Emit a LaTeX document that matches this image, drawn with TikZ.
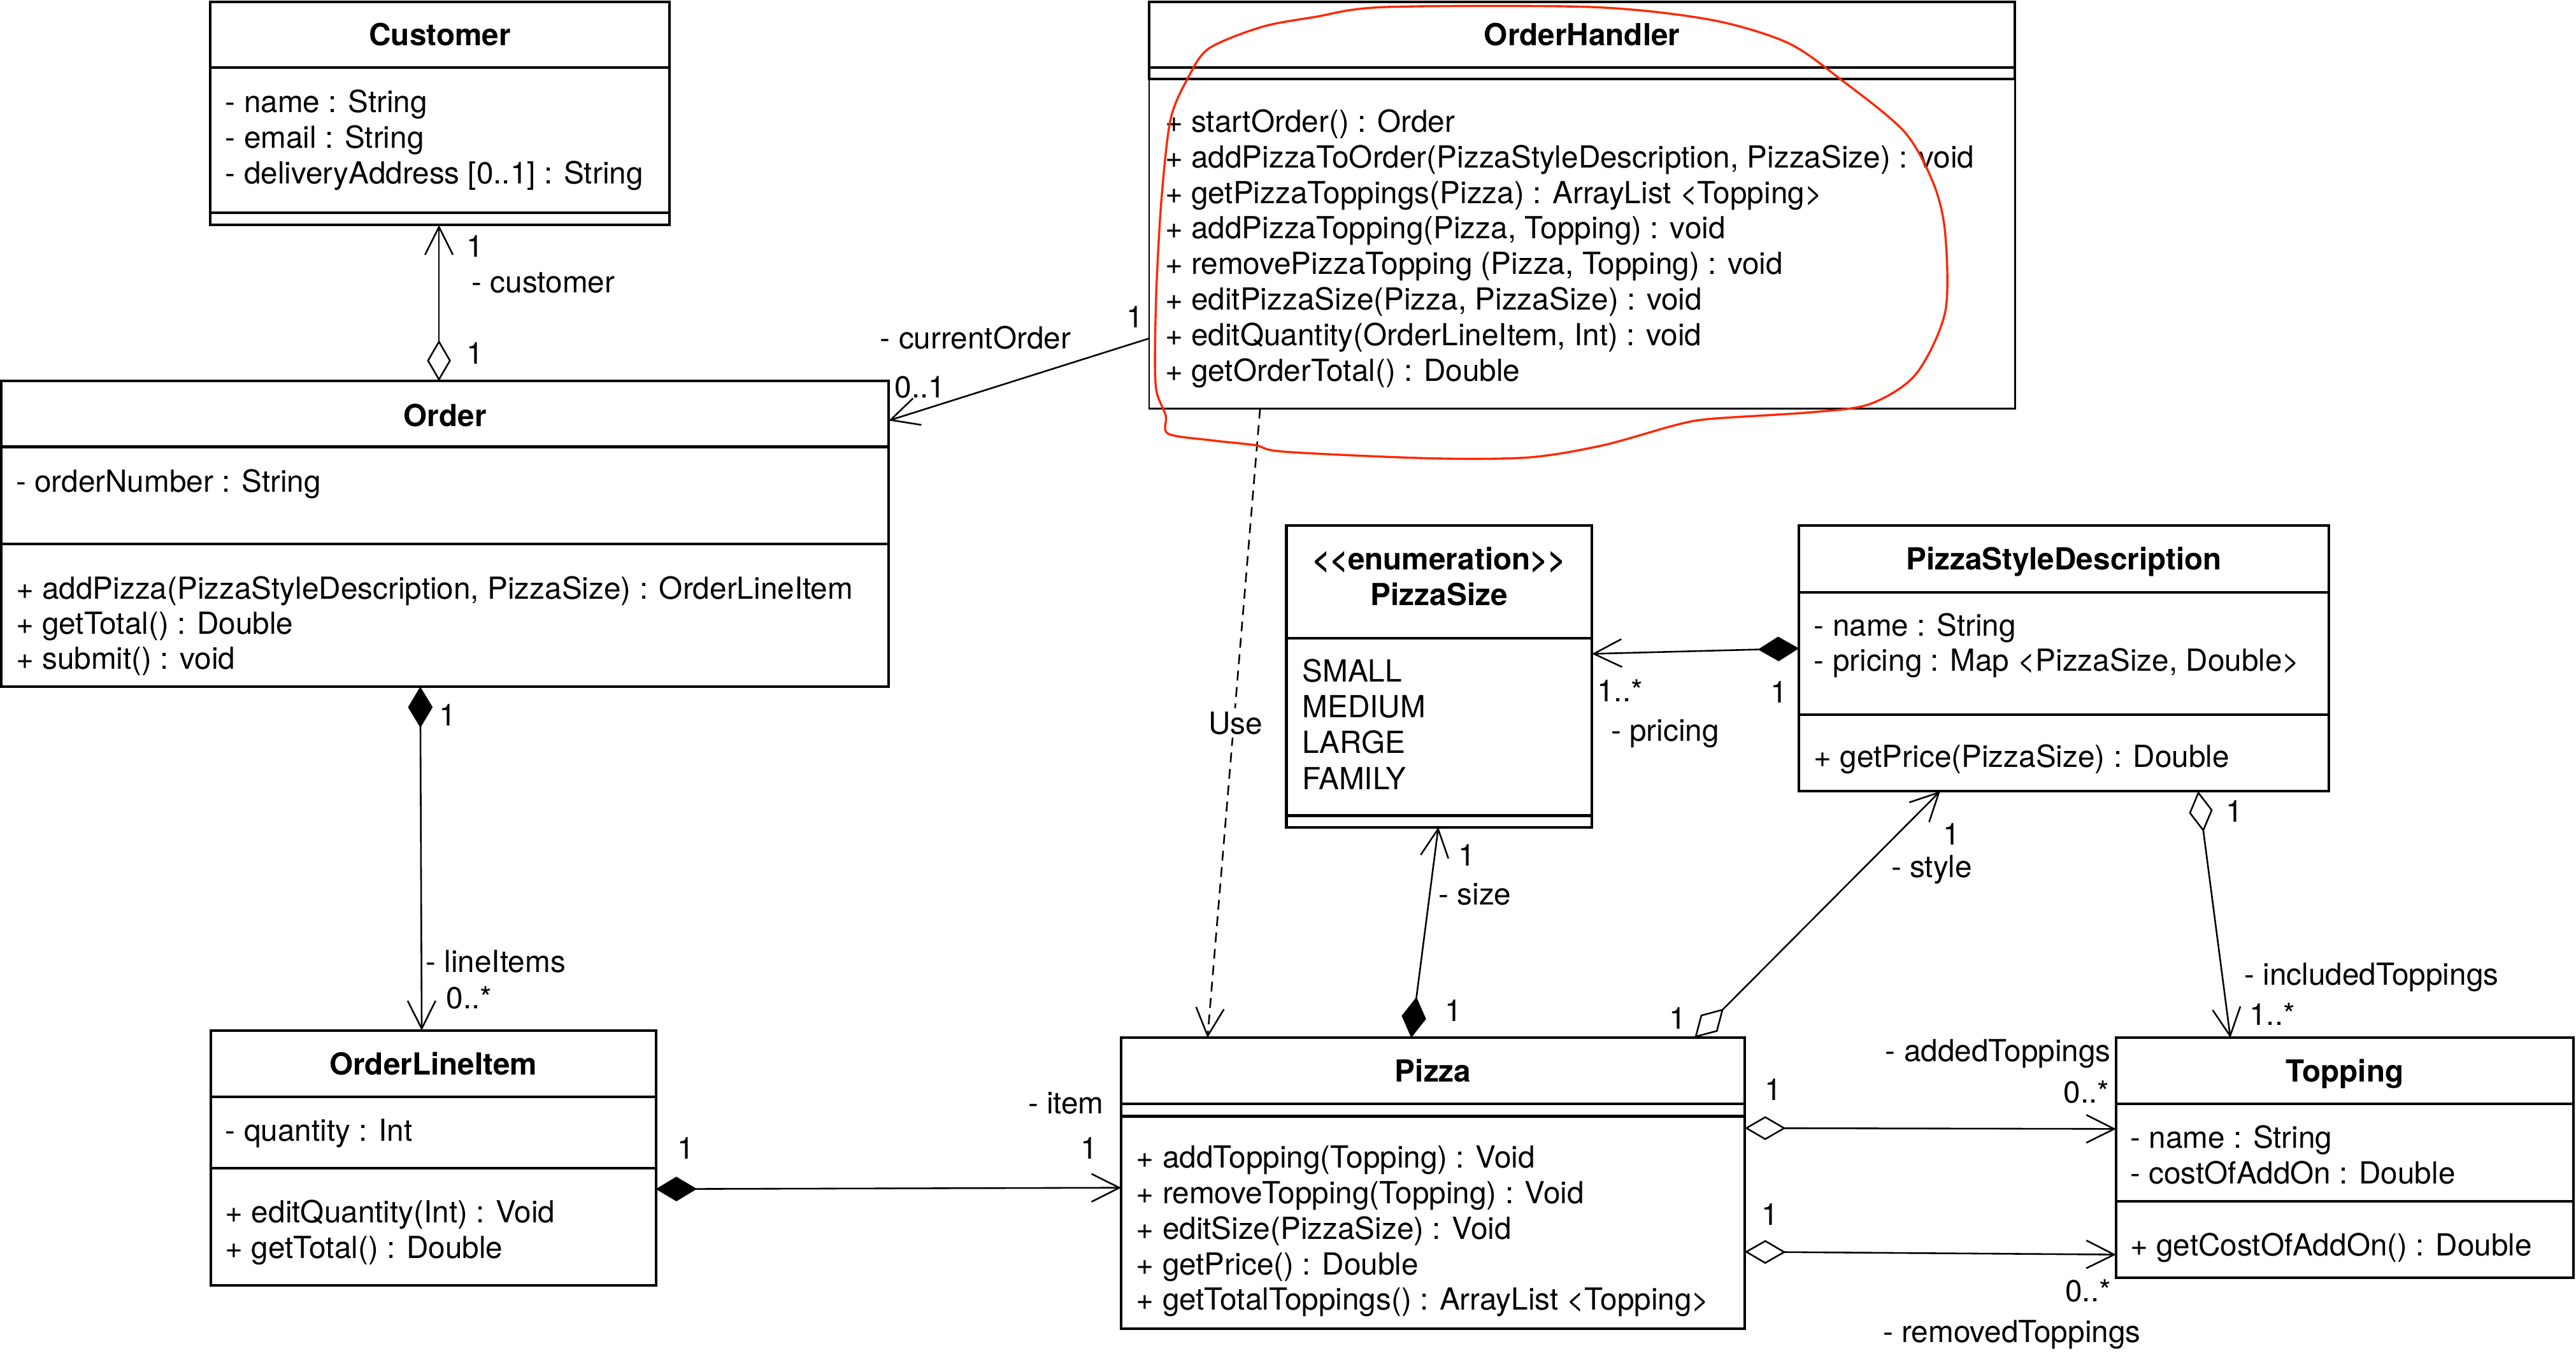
\documentclass[tikz,border=0pt]{standalone}
\usepackage{fontspec}
\setmainfont{TeX Gyre Heros}
\usetikzlibrary{arrows.meta,calc}
\definecolor{redline}{RGB}{255,38,0}
\begin{document}
\begin{tikzpicture}[x=1pt,y=-1pt,
  font=\fontsize{18.5}{21.7}\selectfont,
  cls/.style={draw, line width=1.6pt, inner sep=0pt, outer sep=0pt, anchor=north west},
  txt/.style={anchor=base west, inner sep=0pt},
  ttl/.style={anchor=base, inner sep=0pt, font=\fontsize{18.5}{21.7}\selectfont\bfseries},
  lb/.style={anchor=base, inner sep=0pt},
  lbw/.style={anchor=base west, inner sep=0pt},
  lbe/.style={anchor=base east, inner sep=0pt},
  divl/.style={line width=1.6pt},
  conn/.style={line width=1pt},
  barb/.tip={Straight Barb[length=17pt,width=17pt]},
  fdia/.tip={Diamond[length=25pt,width=15pt]},
  odia/.tip={Diamond[length=25pt,width=14.5pt,fill=white]},
]
\useasboundingbox (0,0) rectangle (1568,826.6);

% ---------- Customer ----------
\node[cls, minimum width=279.5pt, minimum height=136pt] (customer) at (128,1) {};
\draw[divl] (128,41) -- (407.5,41);
\draw[divl] (128,129.5) -- (407.5,129.5);
\node[ttl] (customerT) at (267.75,27.6) {Customer};
\node[txt] (cu1) at (137,68.4) {- name : String};
\node[txt] (cu2) at (137,90.1) {- email : String};
\node[txt] (cu3) at (137,111.8) {- deliveryAddress [0..1] : String};

% ---------- Order ----------
\node[cls, minimum width=540.2pt, minimum height=186pt] (order) at (0.8,232) {};
\draw[divl] (0.8,272) -- (541,272);
\draw[divl] (0.8,331) -- (541,331);
\node[ttl] (orderT) at (270.9,259.4) {Order};
\node[txt] (or1) at (9.5,299.5) {- orderNumber : String};
\node[txt] (or2) at (9.5,364.6) {+ addPizza(PizzaStyleDescription, PizzaSize) : OrderLineItem};
\node[txt] (or3) at (9.5,386) {+ getTotal() : Double};
\node[txt] (or4) at (9.5,407.4) {+ submit() : void};

% ---------- OrderHandler ----------
\node[cls, line width=1pt, minimum width=527pt, minimum height=247.8pt] (orderhandler) at (699.5,1) {};
\draw[divl] (699.5,48) -- (699.5,1) -- (1226.5,1) -- (1226.5,48) -- cycle;
\draw[divl] (699.5,41) -- (1226.5,41);
\node[ttl] (ohT) at (963,27.7) {OrderHandler};
\node[txt] (oh1) at (709,80.5) {+ startOrder() : Order};
\node[txt] (oh2) at (709,102.1) {+ addPizzaToOrder(PizzaStyleDescription, PizzaSize) : void};
\node[txt] (oh3) at (709,123.8) {+ getPizzaToppings(Pizza) : ArrayList <Topping>};
\node[txt] (oh4) at (709,145.4) {+ addPizzaTopping(Pizza, Topping) : void};
\node[txt] (oh5) at (709,167.1) {+ removePizzaTopping (Pizza, Topping) : void};
\node[txt] (oh6) at (709,188.7) {+ editPizzaSize(Pizza, PizzaSize) : void};
\node[txt] (oh7) at (709,210.3) {+ editQuantity(OrderLineItem, Int) : void};
\node[txt] (oh8) at (709,232) {+ getOrderTotal() : Double};

% ---------- PizzaSize ----------
\node[cls, minimum width=186pt, minimum height=183.5pt] (pizzasize) at (783,320) {};
\draw[divl] (783,388.5) -- (969,388.5);
\draw[divl] (783,496.5) -- (969,496.5);
\node[ttl] (psT1) at (876,346.9) {<\kern0pt<enumeration>\kern0pt>};
\node[ttl] (psT2) at (876,368.5) {PizzaSize};
\node[txt] (ps1) at (792.5,415) {SMALL};
\node[txt] (ps2) at (792.5,436.8) {MEDIUM};
\node[txt] (ps3) at (792.5,458.6) {LARGE};
\node[txt] (ps4) at (792.5,480.4) {FAMILY};

% ---------- PizzaStyleDescription ----------
\node[cls, minimum width=322.5pt, minimum height=161.6pt] (psd) at (1095,320) {};
\draw[divl] (1095,360.7) -- (1417.5,360.7);
\draw[divl] (1095,435) -- (1417.5,435);
\node[ttl] (psdT) at (1256.25,346.9) {PizzaStyleDescription};
\node[txt] (sd1) at (1104,387) {- name : String};
\node[txt] (sd2) at (1104,408.6) {- pricing : Map <PizzaSize, Double>};
\node[txt] (sd3) at (1104,467.1) {+ getPrice(PizzaSize) : Double};

% ---------- Pizza ----------
\node[cls, minimum width=379.5pt, minimum height=177pt] (pizza) at (682.5,631.7) {};
\draw[divl] (682.5,672) -- (1062,672);
\draw[divl] (682.5,679.5) -- (1062,679.5);
\node[ttl] (pizzaT) at (872.25,658.6) {Pizza};
\node[txt] (pz1) at (691.5,711) {+ addTopping(Topping) : Void};
\node[txt] (pz2) at (691.5,732.7) {+ removeTopping(Topping) : Void};
\node[txt] (pz3) at (691.5,754.3) {+ editSize(PizzaSize) : Void};
\node[txt] (pz4) at (691.5,775.9) {+ getPrice() : Double};
\node[txt] (pz5) at (691.5,797.5) {+ getTotalToppings() : ArrayList <Topping>};

% ---------- Topping ----------
\node[cls, minimum width=278.5pt, minimum height=146pt] (topping) at (1288,631.7) {};
\draw[divl] (1288,672) -- (1566.5,672);
\draw[divl] (1288,731.2) -- (1566.5,731.2);
\node[ttl] (toppingT) at (1427.25,658.6) {Topping};
\node[txt] (tp1) at (1296.5,698.9) {- name : String};
\node[txt] (tp2) at (1296.5,720.5) {- costOfAddOn : Double};
\node[txt] (tp3) at (1296.5,764.3) {+ getCostOfAddOn() : Double};

% ---------- OrderLineItem ----------
\node[cls, minimum width=271pt, minimum height=155pt] (oli) at (128.2,627.3) {};
\draw[divl] (128.2,667.6) -- (399.2,667.6);
\draw[divl] (128.2,711.2) -- (399.2,711.2);
\node[ttl] (oliT) at (263.7,654.2) {OrderLineItem};
\node[txt] (ol1) at (137,694.6) {- quantity : Int};
\node[txt] (ol2) at (137,744.2) {+ editQuantity(Int) : Void};
\node[txt] (ol3) at (137,765.8) {+ getTotal() : Double};

% ---------- Connectors ----------
% Order -> Customer
\draw[conn, odia-barb] ($(order.north west)+(266.4,0)$) -- ($(customer.south west)+(139.2,0)$);
\node[lb] (c1) at (289,156.6) {1};
\node[lbw] (c2) at (287,178.3) {- customer};
\node[lb] (c3) at (289,221.6) {1};

% OrderHandler -> Order
\draw[conn, -barb] ($(orderhandler.north west)+(0,205)$) -- ($(order.north east)+(0,24)$);
\node[lbe] (h1) at (652,212.3) {- currentOrder};
\node[lb] (h2) at (691,199.5) {1};
\node[lbw] (h3) at (544.5,242) {0..1};

% OrderHandler - - > Pizza (Use)
\draw[conn, dash pattern=on 6pt off 4pt, -barb] ($(orderhandler.south west)+(67.5,0)$) -- ($(pizza.north west)+(52.5,0)$);
\node[lb, fill=white, inner sep=2pt] (use) at (752,446.7) {Use};

% Order -> OrderLineItem
\draw[conn, fdia-barb] ($(order.south west)+(255,0)$) -- ($(oli.north west)+(128.5,0)$);
\node[lb] (o1) at (272.6,442) {1};
\node[lbw] (o2) at (259,592) {- lineItems};
\node[lbw] (o3) at (271.5,614) {0..*};

% OrderLineItem -> Pizza
\draw[conn, fdia-barb] ($(oli.north east)+(0,96.5)$) -- ($(pizza.north west)+(0,91.3)$);
\node[lb] (i1) at (417.6,705.3) {1};
\node[lb] (i2) at (663,705.3) {1};
\node[lbe] (i3) at (672,678) {- item};

% PizzaStyleDescription -> PizzaSize
\draw[conn, fdia-barb] ($(psd.north west)+(0,74.7)$) -- ($(pizzasize.north east)+(0,78)$);
\node[lbw] (p1) at (972,427) {1..*};
\node[lbw] (p2) at (980.4,451) {- pricing};
\node[lb] (p3) at (1083,428) {1};

% Pizza -> PizzaSize
\draw[conn, fdia-barb] ($(pizza.north west)+(176.5,0)$) -- ($(pizzasize.south west)+(92.5,0)$);
\node[lb] (s1) at (892.8,527) {1};
\node[lbw] (s2) at (875.5,550.6) {- size};
\node[lb] (s3) at (884.8,621.8) {1};

% Pizza -> PizzaStyleDescription
\draw[conn, odia-barb] ($(pizza.north west)+(349,0)$) -- ($(psd.south west)+(86,0)$);
\node[lb] (y1) at (1021,626.2) {1};
\node[lb] (y2) at (1188,514.5) {1};
\node[lbw] (y3) at (1151,534) {- style};

% PizzaStyleDescription -> Topping
\draw[conn, odia-barb] ($(psd.south west)+(243,0)$) -- ($(topping.north west)+(69.6,0)$);
\node[lb] (t1) at (1360,500.5) {1};
\node[lbw] (t2) at (1366,599.6) {- includedToppings};
\node[lbw] (t3) at (1369,624) {1..*};

% Pizza -> Topping (added)
\draw[conn, odia-barb] ($(pizza.north east)+(0,55)$) -- ($(topping.north west)+(0,55.5)$);
\node[lbe] (a1) at (1285,646) {- addedToppings};
\node[lb] (a2) at (1079.3,669.8) {1};
\node[lbw] (a3) at (1256,671.5) {0..*};

% Pizza -> Topping (removed)
\draw[conn, odia-barb] ($(pizza.north east)+(0,130.3)$) -- ($(topping.north west)+(0,132)$);
\node[lb] (r1) at (1077.6,745.7) {1};
\node[lbw] (r2) at (1257,792.4) {0..*};
\node[lbw] (r3) at (1146,817) {- removedToppings};

% ---------- Red freehand loop ----------
\draw[redline, line width=1.3pt] plot[smooth cycle, tension=0.5] coordinates {
 (736,29.4) (768,16.4) (800,10.4) (843,4.3) (969,4.3) (1041,12) (1088,26)
 (1120,48) (1159,80) (1177,112) (1184,142) (1184,190) (1166,228) (1138,246)
 (1102,251) (1041,255) (1019,259) (976,271) (931,278.4) (871,279) (782,275)
 (764,271) (737,268) (711,264) (709.6,253) (704,238.5) (703,217.6) (704,173)
 (707,121) (712.5,72.7) (723.5,46.7)};
\end{tikzpicture}
\end{document}
